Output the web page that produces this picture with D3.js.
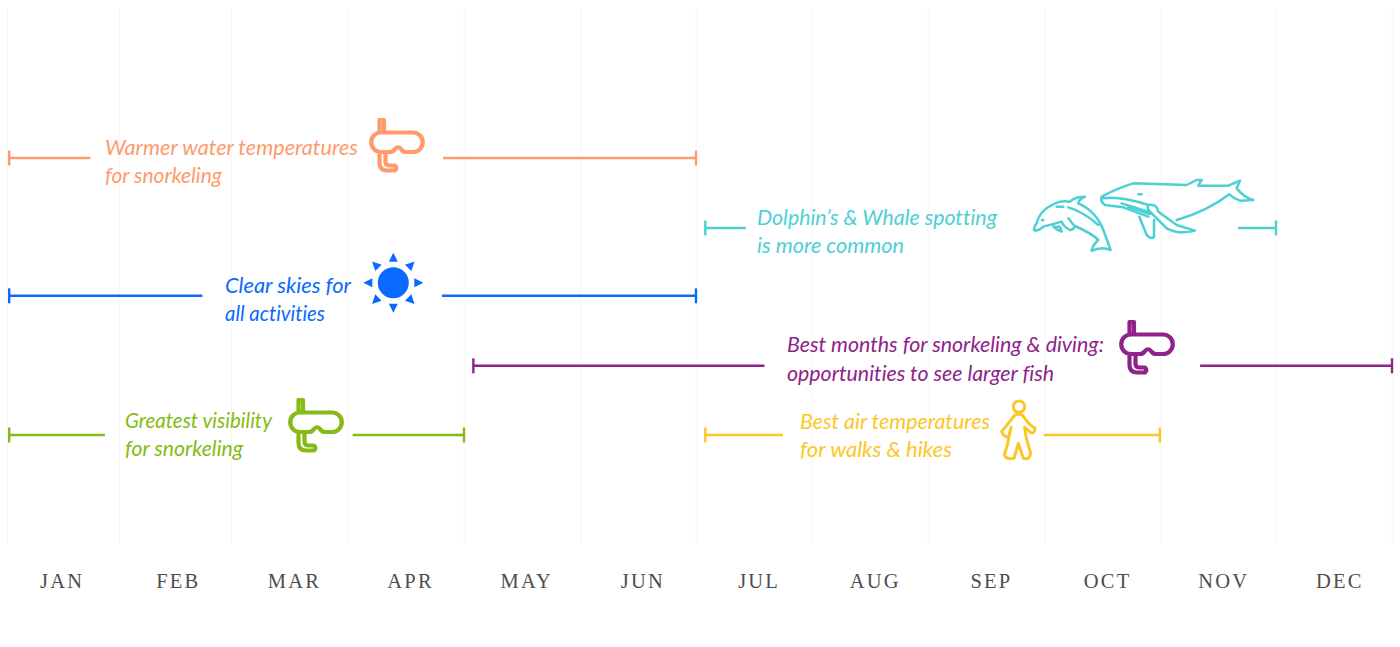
<!DOCTYPE html>
<html>
<head>
<meta charset="utf-8">
<script src="https://cdnjs.cloudflare.com/ajax/libs/d3/7.8.5/d3.min.js"></script>
<style>
  html, body { margin: 0; padding: 0; background: #fff; }
  .note { font-family: Lato, sans-serif; font-style: italic; font-size: 22px; font-variant-ligatures: none; }
  .tick text { font-family: "Liberation Serif", serif; font-size: 20.5px; letter-spacing: 2.2px; fill: #4d4d4d; }
</style>
</head>
<body>
<script>
var svgWidth = 1400;
var svgHeight = 647;

// month labels along the bottom
var months = ["JAN", "FEB", "MAR", "APR", "MAY", "JUN", "JUL", "AUG", "SEP", "OCT", "NOV", "DEC"];

// one entry per activity, values are in months from the start of the year
var rows = [0, 1.01, 1.99, 3, 4, 4];
var startMonth = [0.015, 6.08, 0.015, 4.08, 0.015, 6.08];
var endMonth = [6, 11, 6, 12, 4, 9.99];
var gapStart = [0.74, 6.43, 1.74, 6.59, 0.87, 6.75];
var gapEnd = [3.82, 10.67, 3.81, 10.34, 3.04, 8.99];
var colors = ["#ff9a6b", "#4dd0d3", "#0a6aff", "#8e2389", "#85bb14", "#fcc726"];
var firstLines = ["Warmer water temperatures", "Dolphin’s & Whale spotting", "Clear skies for", "Best months for snorkeling & diving:", "Greatest visibility", "Best air temperatures"];
var secondLines = ["for snorkeling", "is more common", "all activities", "opportunities to see larger fish", "for snorkeling", "for walks & hikes"];

var svg = d3.select("body")
            .append("svg")
            .attr("width", svgWidth)
            .attr("height", svgHeight);

// the month columns in the picture are not quite even
var xScale = d3.scaleLinear()
               .domain(d3.range(13))
               .range([7.5, 119.5, 231.5, 348, 464, 581, 696, 812, 928, 1045, 1161, 1276, 1392]);

var yScale = d3.scaleLinear()
               .domain([0, 4])
               .range([158, 435]);

var labelScale = d3.scaleBand()
                   .domain(months)
                   .range([4, 1398]);

// faint column lines
svg.selectAll(".grid")
   .data(d3.range(13))
   .enter()
   .append("line")
   .attr("class", "grid")
   .attr("x1", d => xScale(d))
   .attr("x2", d => xScale(d))
   .attr("y1", 8)
   .attr("y2", 545)
   .attr("stroke", "#f6f6f6")
   .attr("stroke-width", 1);

var bottomAxis = d3.axisBottom(labelScale).tickSize(0).tickPadding(0);

svg.append("g")
   .attr("transform", "translate(0, 573)")
   .call(bottomAxis)
   .call(g => g.select(".domain").remove());

// range lines, broken where the note sits
var segments = [];
rows.forEach(function(row, i) {
  segments.push({ row: row, from: startMonth[i], to: gapStart[i], color: colors[i] });
  segments.push({ row: row, from: gapEnd[i], to: endMonth[i], color: colors[i] });
});

svg.selectAll(".range")
   .data(segments)
   .enter()
   .append("line")
   .attr("class", "range")
   .attr("x1", d => xScale(d.from))
   .attr("x2", d => xScale(d.to))
   .attr("y1", d => yScale(d.row))
   .attr("y2", d => yScale(d.row))
   .attr("stroke", d => d.color)
   .attr("stroke-width", 2.4);

// end caps
var caps = [];
rows.forEach(function(row, i) {
  caps.push({ row: row, at: startMonth[i], color: colors[i] });
  caps.push({ row: row, at: endMonth[i], color: colors[i] });
});

svg.selectAll(".cap")
   .data(caps)
   .enter()
   .append("line")
   .attr("class", "cap")
   .attr("x1", d => xScale(d.at))
   .attr("x2", d => xScale(d.at))
   .attr("y1", d => yScale(d.row) - 7.5)
   .attr("y2", d => yScale(d.row) + 7.5)
   .attr("stroke", d => d.color)
   .attr("stroke-width", 2.4);

// notes, widths squeezed to what the original font takes up
var noteX = [105, 757, 225, 787, 125, 800];
var noteY = [155, 225, 293, 352, 428, 429];
var noteY2 = [183, 253, 321, 381, 456, 457];
var firstWidths = [253, 240, 126, 317, 147, 190];
var secondWidths = [117, 147, 100, 267, 118, 152];

var notes = svg.selectAll(".note")
   .data(rows)
   .enter()
   .append("text")
   .attr("class", "note")
   .attr("fill", (d, i) => colors[i]);

notes.append("tspan")
     .attr("x", (d, i) => noteX[i])
     .attr("y", (d, i) => noteY[i])
     .attr("textLength", (d, i) => firstWidths[i])
     .attr("lengthAdjust", "spacingAndGlyphs")
     .text((d, i) => firstLines[i]);

notes.append("tspan")
     .attr("x", (d, i) => noteX[i])
     .attr("y", (d, i) => noteY2[i])
     .attr("textLength", (d, i) => secondWidths[i])
     .attr("lengthAdjust", "spacingAndGlyphs")
     .text((d, i) => secondLines[i]);

// icons
var snorkel = "M15,14.5H44A9.75,9.75 0 0 1 44,34H37Q34,34 32,31Q29,27.5 26,31Q24,34 21,34H12A9.75,9.75 0 0 1 12,14.5Z" +
              "M10.5,14V2H15V14M10.5,35V45Q10.5,52.5 18,52.5H26Q28.5,50 26,47.5H20Q16.5,47 16.5,44V35";

function drawSnorkel(dx, dy, color) {
  svg.append("path")
     .attr("d", snorkel)
     .attr("transform", `translate(${dx}, ${dy})`)
     .attr("fill", "none")
     .attr("stroke", color)
     .attr("stroke-width", 4.2)
     .attr("stroke-linejoin", "round");
}

drawSnorkel(369, 118, colors[0]);
drawSnorkel(1119, 320, colors[3]);
drawSnorkel(288, 398, colors[4]);

// sun
var sun = svg.append("g").attr("transform", "translate(393.3, 282.7)");
sun.append("circle").attr("r", 15.5).attr("fill", colors[2]);
sun.selectAll("path")
   .data(d3.range(8))
   .enter()
   .append("path")
   .attr("d", "M-4.5,-21L0,-30L4.5,-21Z")
   .attr("transform", d => `rotate(${d * 45})`)
   .attr("fill", colors[2]);

// whale and dolphin, traced at 3x
var whale = "M245,80Q290,55 340,40L500,45L530,30L545,30L535,47L625,47L660,32L650,55Q675,85 700,90L660,92Q640,85 628,73Q560,125 470,150" +
            "M245,80Q240,95 255,105L310,112L385,140M250,85Q300,78 385,105" +
            "M385,105Q410,100 415,125L470,165L525,182Q480,195 440,175L390,125Q380,115 385,105" +
            "M305,100L385,125M325,110L390,132M358,140L380,195Q395,210 402,200L402,150M355,73H365";
var dolphin = "M42,180Q42,168 50,160Q60,115 120,95Q135,93 150,95Q165,80 195,80Q175,90 175,100Q230,125 250,180L272,240Q245,228 215,243Q218,225 235,210Q215,190 165,168" +
              "Q160,180 150,180Q130,170 125,155M145,145L165,170M125,155Q90,165 70,170Q55,185 42,180" +
              "M100,170Q110,170 120,170L125,185Q110,180 100,170M110,110H130M145,112Q190,125 235,165M66,150H70";

svg.append("g")
   .attr("transform", "translate(1020, 170) scale(0.3333)")
   .selectAll("path")
   .data([whale, dolphin])
   .enter()
   .append("path")
   .attr("d", d => d)
   .attr("fill", "none")
   .attr("stroke", colors[1])
   .attr("stroke-width", 7.5)
   .attr("stroke-linejoin", "round")
   .attr("stroke-linecap", "round");

// walker
var walker = svg.append("g").attr("transform", "translate(990, 390) scale(0.3333)");
walker.append("circle")
      .attr("cx", 87).attr("cy", 50).attr("r", 17)
      .attr("fill", "none").attr("stroke", colors[5]).attr("stroke-width", 9);
walker.append("path")
      .attr("d", "M75,75Q88,70 100,78Q112,100 135,115Q135,132 122,128L104,112L108,140L122,190Q120,210 100,205L85,160L72,205Q50,210 43,195L52,165L63,112L56,140Q45,145 35,125Q55,100 75,75Z")
      .attr("fill", "none")
      .attr("stroke", colors[5])
      .attr("stroke-width", 9)
      .attr("stroke-linejoin", "round");
</script>
</body>
</html>
